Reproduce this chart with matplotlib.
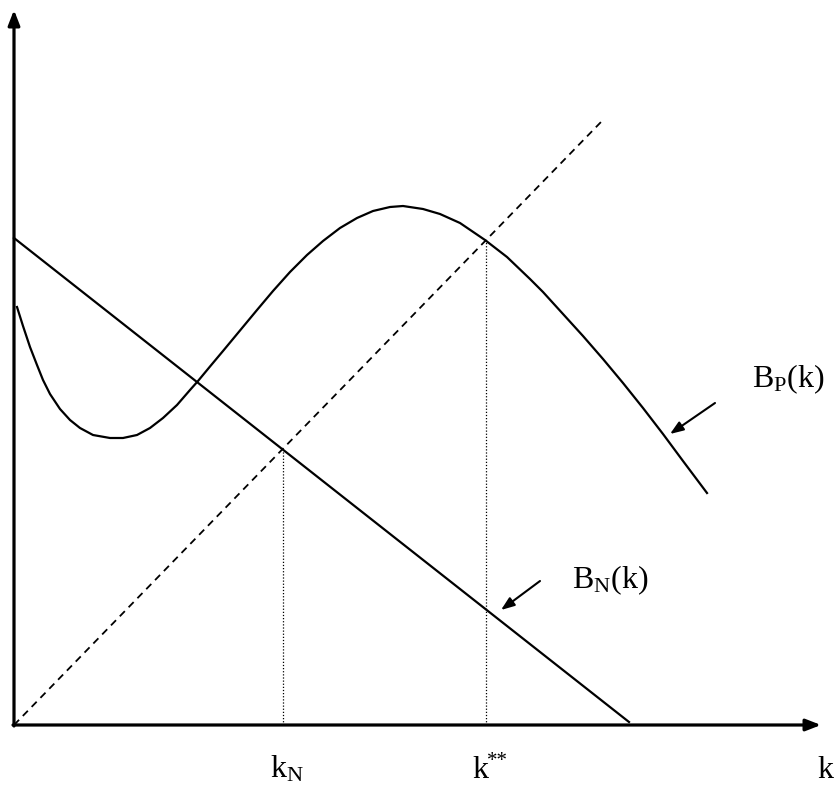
import numpy as np
import matplotlib
matplotlib.use('Agg')
import matplotlib.pyplot as plt

plt.rcParams['font.family'] = ['Liberation Serif', 'DejaVu Serif']
plt.rcParams['mathtext.fontset'] = 'custom'
plt.rcParams['mathtext.rm'] = 'Liberation Serif'
plt.rcParams['mathtext.it'] = 'Liberation Serif:italic'

# B_N(k): straight falling line
bn_k = [0, 615]
bn_val = [487, 3]

# 45 degree line (dashed)
diag_k = [0, 587]
diag_val = [0, 603]

# B_P(k)
bp_k = [3, 9, 16, 23, 29, 36, 46, 56, 66, 79, 96, 109, 123, 136, 149, 163,
        176, 184, 196, 209, 226, 243, 259, 276, 293, 309, 326, 343, 359, 376,
        389, 409, 426, 446, 471, 493, 516, 529, 549, 569, 589, 609, 629, 649,
        669, 693]
bp_val = [418, 399, 378, 360, 345, 331, 316, 305, 297, 290, 287, 287, 290, 297,
          307, 320, 335, 344, 358.5, 374, 394.5, 415, 434, 453, 470, 484, 497,
          507, 514, 518, 519, 516, 511, 502, 485, 468, 446, 433, 411, 389, 366,
          342, 317, 291, 264, 232]

# the two marked points on the k axis
mark_k = [269, 472]
mark_val = [276, 487]

fig = plt.figure(figsize=(8.35, 7.85), dpi=100)
ax = fig.add_axes([0, 0, 1, 1])
ax.set_xlim(-14, 821)
ax.set_ylim(-60, 725)
ax.axis('off')

# axes with arrow heads
ax.annotate('', xy=(0, 715), xytext=(0, -1),
            arrowprops=dict(arrowstyle='-|>,head_length=0.9,head_width=0.35',
                            color='black', lw=2.3, shrinkA=0, shrinkB=0))
ax.annotate('', xy=(807, 0), xytext=(-1, 0),
            arrowprops=dict(arrowstyle='-|>,head_length=0.9,head_width=0.35',
                            color='black', lw=2.3, shrinkA=0, shrinkB=0))

ax.plot(diag_k, diag_val, color='black', lw=1.3, linestyle=(0, (4, 3)))
ax.plot(bn_k, bn_val, color='black', lw=1.6)
ax.plot(bp_k, bp_val, color='black', lw=1.6, solid_joinstyle='round')

for k, v in zip(mark_k, mark_val):
    ax.plot([k, k], [0, v], color='black', lw=0.9, linestyle=(0, (1, 1.5)))

# labels on the k axis
ax.text(256, -53, r'$\mathrm{k_N}$', fontsize=23, ha='left', va='baseline')
ax.text(458, -53, 'k', fontsize=23, ha='left', va='baseline')
ax.text(473, -41, '**', fontsize=15, ha='left', va='baseline')
ax.text(803, -53, 'k', fontsize=23, ha='left', va='baseline')

# curve labels with pointers
ax.text(738, 338, r'$\mathrm{B_P(k)}$', fontsize=23, ha='left', va='baseline')
ax.text(558, 137, r'$\mathrm{B_N(k)}$', fontsize=23, ha='left', va='baseline')
ax.annotate('', xy=(656, 291), xytext=(701, 322),
            arrowprops=dict(arrowstyle='-|>,head_length=0.8,head_width=0.3',
                            color='black', lw=1.5, shrinkA=0, shrinkB=0))
ax.annotate('', xy=(487, 115), xytext=(526, 144),
            arrowprops=dict(arrowstyle='-|>,head_length=0.8,head_width=0.3',
                            color='black', lw=1.5, shrinkA=0, shrinkB=0))

fig.savefig('out.png', dpi=100)
